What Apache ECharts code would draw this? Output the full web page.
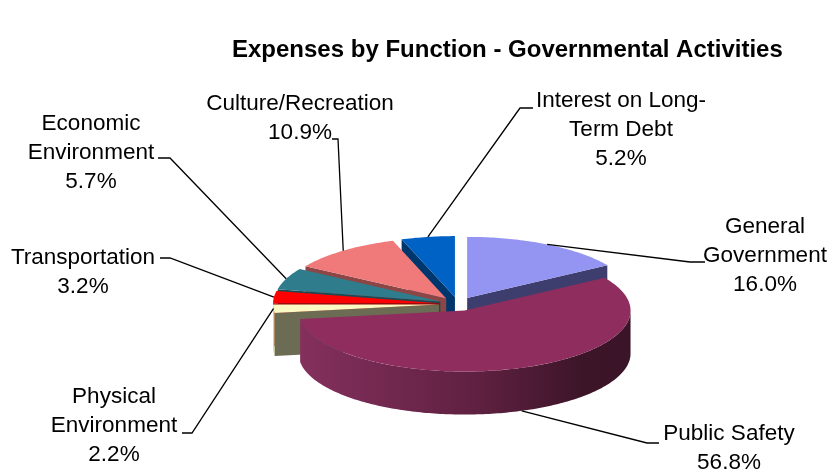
<!DOCTYPE html>
<html>
<head>
<meta charset="utf-8">
<script src="https://cdn.jsdelivr.net/npm/echarts@6/dist/echarts.min.js"></script>
<style>
  html, body { margin: 0; padding: 0; background: #fff; }
  #box { width: 833px; height: 474px; }
</style>
</head>
<body>
<div id="box"></div>
<script>
// data
const categories = ["General Government", "Public Safety", "Physical Environment", "Transportation",
  "Economic Environment", "Culture/Recreation", "Interest on Long-Term Debt"];
const labelNames = ["General\nGovernment", "Public Safety", "Physical\nEnvironment", "Transportation",
  "Economic\nEnvironment", "Culture/Recreation", "Interest on Long-\nTerm Debt"];
const shares = [16.0, 56.8, 2.2, 3.2, 5.7, 10.9, 5.2];

// layout of the 3d pie (px)
const CX = 458, CY = 304, RX = 166, RY = 61, DEPTH = 43, EXPLODE = 19;
const FONT = '"Liberation Sans", Arial, sans-serif';

// styles
const topColors = ["#9494f3", "#8e2d5e", "#fafac4", "#ff0000", "#2e7c8c", "#f07a7a", "#0062c4"];
const sideColors = ["#3e3e6e", "#5e2040", "#6c6c54", "#9a0000", "#1b4a55", "#8c4646", "#00366e"];
const wallStops = [
  [[0, "#44447a"], [1, "#34345e"]],
  [[0, "#84305d"], [0.55, "#5e2040"], [0.85, "#3d1529"], [1, "#3a1428"]],
  [[0, "#e8e8b0"], [1, "#bdbd8a"]],
  [[0, "#b00000"], [1, "#800000"]],
  [[0, "#24606d"], [1, "#1b4a55"]],
  [[0, "#a85858"], [1, "#8c4646"]],
  [[0, "#004a94"], [1, "#00366e"]]
];

// label blocks and leader knees
const labelPos = [[765, 256], [729, 448], [114, 426], [83, 272], [91, 153], [300, 118], [621, 130]];
const knees = [[690, 262], [647, 443], [192, 433], [170, 258], [170, 158], [338, 139], [520, 108]];
const ticks = [15, 12, -10, -10, -12, -6, 13];

const total = shares.reduce((a, b) => a + b, 0);
const starts = [];
let acc = 0;
shares.forEach((v) => { starts.push(acc); acc += v; });

const rad = (d) => d * Math.PI / 180;
function rimPt(th, ox, oy, dz) {
  return [CX + ox + RX * Math.sin(rad(th)), CY + oy - RY * Math.cos(rad(th)) + dz];
}
function arc(a, b, ox, oy, dz) {
  const n = Math.max(2, Math.ceil(Math.abs(b - a)));
  const pts = [];
  for (let k = 0; k <= n; k++) pts.push(rimPt(a + (b - a) * k / n, ox, oy, dz));
  return pts;
}

// painter order: back slices first
const mids = shares.map((v, i) => 360 * (starts[i] + v / 2) / total);
const order = shares.map((v, i) => i).sort((p, q) => Math.cos(rad(mids[q])) - Math.cos(rad(mids[p])));
const rank = [];
order.forEach((idx, r) => { rank[idx] = r; });

function renderItem(params, api) {
  const i = params.dataIndex;
  const v = api.value(0);
  const a = 360 * starts[i] / total;
  const b = a + 360 * v / total;
  const m = (a + b) / 2;
  const ox = EXPLODE * Math.sin(rad(m));
  const oy = -EXPLODE * Math.cos(rad(m)) * RY / RX;
  const apex = [CX + ox, CY + oy];
  const base = rank[i] * 10;
  const children = [];

  function face(t) {
    return {
      type: "polygon",
      shape: { points: [apex, rimPt(t, ox, oy, 0), rimPt(t, ox, oy, DEPTH), [apex[0], apex[1] + DEPTH]] },
      style: { fill: sideColors[i] },
      z2: base + 1
    };
  }
  if (Math.sin(rad(a)) < -1e-6) children.push(face(a));
  if (Math.sin(rad(b)) > 1e-6) children.push(face(b));

  const w0 = Math.max(a, 90), w1 = Math.min(b, 270);
  if (w1 > w0) {
    const pts = arc(w0, w1, ox, oy, 0).concat(arc(w1, w0, ox, oy, DEPTH));
    children.push({
      type: "polygon",
      shape: { points: pts },
      style: {
        fill: new echarts.graphic.LinearGradient(0, 0, 1, 0,
          wallStops[i].map((s) => ({ offset: s[0], color: s[1] })))
      },
      z2: base + 2
    });
  }

  children.push({
    type: "polygon",
    shape: { points: [apex].concat(arc(a, b, ox, oy, 0)) },
    style: { fill: topColors[i] },
    z2: base + 5
  });

  // leader line + label
  const anchor = rimPt(m, ox, oy, Math.cos(rad(m)) < -0.5 ? DEPTH : 0);
  const knee = knees[i];
  children.push({
    type: "polyline",
    shape: { points: [anchor, knee, [knee[0] + ticks[i], knee[1]]] },
    style: { stroke: "#000", lineWidth: 1.3, fill: null },
    z2: 200
  });
  children.push({
    type: "text",
    style: {
      text: labelNames[i] + "\n" + v.toFixed(1) + "%",
      x: labelPos[i][0],
      y: labelPos[i][1],
      align: "center",
      verticalAlign: "middle",
      fontSize: 22.5,
      fontFamily: FONT,
      lineHeight: 29,
      fill: "#000"
    },
    z2: 210
  });

  return { type: "group", children: children };
}

var myChart = echarts.init(document.getElementById("box"));
myChart.setOption({
  animation: false,
  title: {
    text: "Expenses by Function - Governmental Activities",
    left: 227,
    top: 33,
    textStyle: { fontSize: 24, fontWeight: "bold", fontFamily: FONT, color: "#000" }
  },
  series: [
    {
      type: "custom",
      name: "Expenses",
      coordinateSystem: "none",
      silent: true,
      renderItem: renderItem,
      data: shares.map((v, i) => ({ name: categories[i], value: v }))
    }
  ]
});
</script>
</body>
</html>
